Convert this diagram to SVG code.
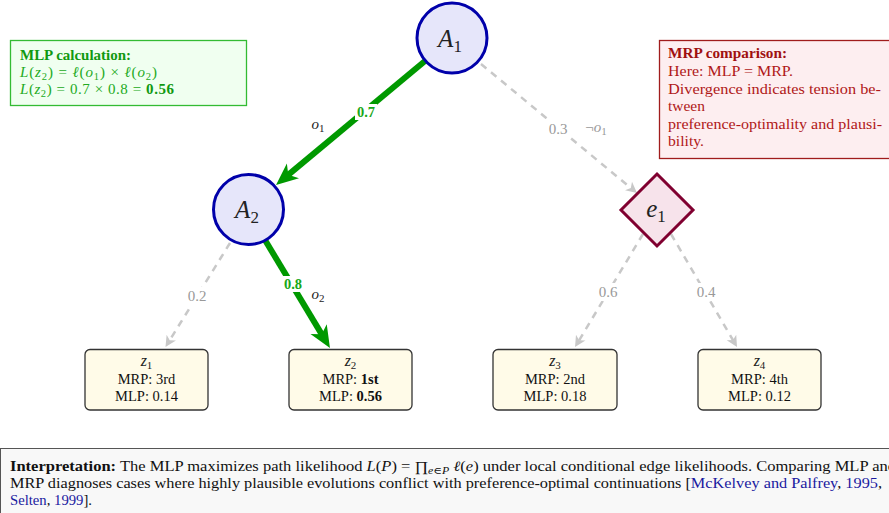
<svg xmlns="http://www.w3.org/2000/svg" width="889" height="513" viewBox="0 0 889 513">
<defs>
<style>
text{font-family:"Liberation Serif","DejaVu Serif",serif;}
.player{fill:#e6e6fa;stroke:#0000aa;stroke-width:3;}
.chance{fill:#f7e3eb;stroke:#800030;stroke-width:3;}
.leaf{fill:#fffbe8;stroke:#333;stroke-width:1.3;}
.nl{font-size:25px;font-style:italic;fill:#222;text-anchor:middle;}
.lt{font-size:14.5px;fill:#111;text-anchor:middle;}
.zl{font-size:16px;fill:#222;text-anchor:middle;}
.green{stroke:#009900;stroke-width:6;fill:none;}
.gray{stroke:#c8c8c8;stroke-width:2.5;stroke-dasharray:7,6;fill:none;}
.gl{font-size:14.5px;font-weight:bold;fill:#18a818;text-anchor:middle;}
.pl{font-size:15px;fill:#999;text-anchor:middle;}
.ol{font-size:15px;font-style:italic;fill:#222;text-anchor:middle;}
.bg{fill:#fff;}
</style>
<marker id="ga" markerUnits="userSpaceOnUse" markerWidth="30" markerHeight="24" viewBox="0 -12 30 24" refX="12" refY="0" orient="auto">
<path d="M0,-9.5 L22,0 L0,9.5 L6,0 Z" fill="#009900"/>
</marker>
<marker id="pa" markerUnits="userSpaceOnUse" markerWidth="16" markerHeight="14" viewBox="0 -7 16 14" refX="7" refY="0" orient="auto">
<path d="M0,-5.5 L11,0 L0,5.5 L3,0 Z" fill="#c8c8c8"/>
</marker>
</defs>
<rect width="889" height="513" fill="#fff"/>

<g id="connectors">
<line class="green" x1="425" y1="61" x2="283.7" y2="178.6" marker-end="url(#ga)"/>
<line class="green" x1="265" y1="240" x2="324.8" y2="339.4" marker-end="url(#ga)"/>
<line class="gray" x1="481" y1="64" x2="633.9" y2="190.5" marker-end="url(#pa)"/>
<line class="gray" x1="230" y1="243" x2="167.6" y2="343.6" marker-end="url(#pa)"/>
<line class="gray" x1="643" y1="234" x2="577.1" y2="343.6" marker-end="url(#pa)"/>
<line class="gray" x1="671" y1="234" x2="735" y2="343.5" marker-end="url(#pa)"/>
<rect class="bg" x="355" y="104" width="22" height="16"/>
<text class="gl" x="366" y="117">0.7</text>
<text class="ol" x="318" y="129">o<tspan font-size="11" font-style="normal" dy="3">1</tspan></text>
<rect class="bg" x="282" y="276" width="22" height="16"/>
<text class="gl" x="293" y="289">0.8</text>
<text class="ol" x="318" y="299">o<tspan font-size="11" font-style="normal" dy="3">2</tspan></text>
<rect class="bg" x="545" y="119" width="26" height="18"/>
<text class="pl" x="558" y="134">0.3</text>
<text class="pl" x="596" y="132">¬<tspan font-style="italic">o</tspan><tspan font-size="11" dy="3">1</tspan></text>
<rect class="bg" x="184" y="287" width="26" height="18"/>
<text class="pl" x="197" y="301">0.2</text>
<rect class="bg" x="595" y="283" width="26" height="18"/>
<text class="pl" x="608" y="297">0.6</text>
<rect class="bg" x="693" y="283" width="26" height="18"/>
<text class="pl" x="706" y="297">0.4</text>
</g>

<g id="A1">
<circle class="player" cx="452" cy="38" r="35"/>
<text class="nl" x="450" y="47">A<tspan font-size="17" font-style="normal" dy="5">1</tspan></text>
</g>
<g id="A2">
<circle class="player" cx="248.5" cy="209.5" r="35"/>
<text class="nl" x="247" y="218">A<tspan font-size="17" font-style="normal" dy="5">2</tspan></text>
</g>
<g id="e1">
<polygon class="chance" points="657,174 693,210 657,246 621,210"/>
<text class="nl" x="656" y="217">e<tspan font-size="17" font-style="normal" dy="5">1</tspan></text>
</g>

<g id="z1">
<rect class="leaf" x="85" y="349.5" width="123" height="60.5" rx="5"/>
<text class="zl" x="146.5" y="366"><tspan font-style="italic">z</tspan><tspan font-size="11" dy="3">1</tspan></text>
<text class="lt" x="146.5" y="384">MRP: 3rd</text>
<text class="lt" x="146.5" y="401">MLP: 0.14</text>
</g>
<g id="z2">
<rect class="leaf" x="289" y="349.5" width="123" height="60.5" rx="5"/>
<text class="zl" x="350.5" y="366"><tspan font-style="italic">z</tspan><tspan font-size="11" dy="3">2</tspan></text>
<text class="lt" x="350.5" y="384">MRP: <tspan font-weight="bold">1st</tspan></text>
<text class="lt" x="350.5" y="401">MLP: <tspan font-weight="bold">0.56</tspan></text>
</g>
<g id="z3">
<rect class="leaf" x="493" y="349.5" width="124" height="60.5" rx="5"/>
<text class="zl" x="555" y="366"><tspan font-style="italic">z</tspan><tspan font-size="11" dy="3">3</tspan></text>
<text class="lt" x="555" y="384">MRP: 2nd</text>
<text class="lt" x="555" y="401">MLP: 0.18</text>
</g>
<g id="z4">
<rect class="leaf" x="698" y="349.5" width="123" height="60.5" rx="5"/>
<text class="zl" x="759.5" y="366"><tspan font-style="italic">z</tspan><tspan font-size="11" dy="3">4</tspan></text>
<text class="lt" x="759.5" y="384">MRP: 4th</text>
<text class="lt" x="759.5" y="401">MLP: 0.12</text>
</g>

<g id="mlp-box">
<rect x="10.5" y="40.5" width="236" height="65" fill="#f0fff0" stroke="#33bb33" stroke-width="1.3"/>
<text x="20" y="60" font-size="15" font-weight="bold" fill="#119911" textLength="111" lengthAdjust="spacingAndGlyphs">MLP calculation:</text>
<text x="20" y="77" font-size="15" fill="#22aa22" textLength="137" lengthAdjust="spacing"><tspan font-style="italic">L</tspan>(<tspan font-style="italic">z</tspan><tspan font-size="10.5" dy="3">2</tspan><tspan dy="-3">) = </tspan><tspan font-style="italic">ℓ</tspan>(<tspan font-style="italic">o</tspan><tspan font-size="10.5" dy="3">1</tspan><tspan dy="-3">) × </tspan><tspan font-style="italic">ℓ</tspan>(<tspan font-style="italic">o</tspan><tspan font-size="10.5" dy="3">2</tspan><tspan dy="-3">)</tspan></text>
<text x="20" y="94" font-size="15" fill="#22aa22" textLength="154" lengthAdjust="spacing"><tspan font-style="italic">L</tspan>(<tspan font-style="italic">z</tspan><tspan font-size="10.5" dy="3">2</tspan><tspan dy="-3">) = 0.7 × 0.8 = </tspan><tspan font-weight="bold" fill="#119911">0.56</tspan></text>
</g>

<g id="mrp-box">
<rect x="659.5" y="40.5" width="235" height="118" fill="#fdeef0" stroke="#a01c1c" stroke-width="1.3"/>
<g font-size="15" fill="#b01818">
<text x="668" y="58" font-weight="bold" fill="#a01010" textLength="119" lengthAdjust="spacingAndGlyphs">MRP comparison:</text>
<text x="668" y="76" textLength="125" lengthAdjust="spacingAndGlyphs">Here:  MLP = MRP.</text>
<text x="668" y="94" textLength="213" lengthAdjust="spacingAndGlyphs">Divergence indicates tension be-</text>
<text x="668" y="111" textLength="37" lengthAdjust="spacingAndGlyphs">tween</text>
<text x="668" y="129" textLength="214" lengthAdjust="spacingAndGlyphs">preference-optimality and plausi-</text>
<text x="668" y="146" textLength="36" lengthAdjust="spacingAndGlyphs">bility.</text>
</g>
</g>

<g id="interpretation">
<rect x="0.5" y="448.5" width="900" height="70" fill="#f8f8f8" stroke="#555" stroke-width="1"/>
<g font-size="14" fill="#111">
<text x="10" y="471" textLength="886" lengthAdjust="spacingAndGlyphs"><tspan font-weight="bold">Interpretation:</tspan> The MLP maximizes path likelihood <tspan font-style="italic">L</tspan>(<tspan font-style="italic">P</tspan>) = ∏<tspan font-size="10" font-style="italic" dy="3">e∈P</tspan><tspan dy="-3"> </tspan><tspan font-style="italic">ℓ</tspan>(<tspan font-style="italic">e</tspan>) under local conditional edge likelihoods.  Comparing MLP and</text>
<text x="10" y="488" textLength="872" lengthAdjust="spacingAndGlyphs">MRP diagnoses cases where highly plausible evolutions conflict with preference-optimal continuations [<tspan fill="#1a1aa0">McKelvey and Palfrey</tspan>, <tspan fill="#1a1aa0">1995</tspan>,</text>
<text x="10" y="505" textLength="82" lengthAdjust="spacingAndGlyphs"><tspan fill="#1a1aa0">Selten</tspan>, <tspan fill="#1a1aa0">1999</tspan>].</text>
</g>
</g>
</svg>
